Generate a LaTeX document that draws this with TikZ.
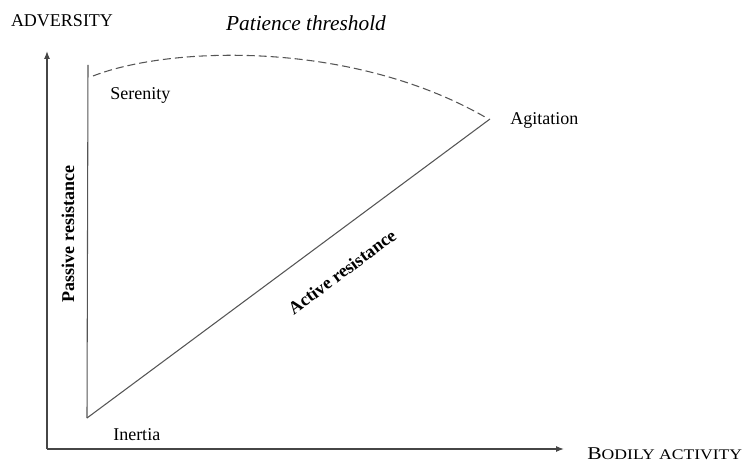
\documentclass[tikz,border=0pt]{standalone}
\usepackage{fontspec}
\setmainfont{Liberation Serif}
\usepackage{tikz}
\usetikzlibrary{arrows.meta,positioning}

\begin{document}
\begin{tikzpicture}[x=0.75pt,y=0.75pt,yscale=-1,xscale=1,
  axis/.style={draw={rgb,255:red,70;green,70;blue,70},line width=0.9pt,-{Latex[length=6pt,width=4.5pt]}},
  curve/.style={draw={rgb,255:red,85;green,85;blue,85},line width=0.8pt},
  label/.style={inner sep=0pt,font=\fontsize{13.5}{15}\selectfont}]
\useasboundingbox (0,0) rectangle (745,466);

% axes
\coordinate (origin) at (47,449);
\coordinate (ytip) at (47,51);
\coordinate (xtip) at (564,449);
\draw [axis] (origin) -- (ytip);
\draw [axis] (origin) -- (xtip);

% points of the triangle
\coordinate (top) at (88,65);
\coordinate (low) at (87,418);
\coordinate (agit) at (490,119);
\coordinate (dstart) at (93,76);
\coordinate (dend) at (485,117);

%Straight Lines
\draw [curve] (top) -- (low);
\draw [curve] (low) -- (agit);
%Dashed curve
\draw [curve,dash pattern=on 6pt off 3pt] (dstart) .. controls (170,46) and (350,40) .. (dend);

% Text Node
\node [label] (adversity) at (62,21) {ADVERSITY};
% Text Node
\node [label,font=\fontsize{16}{18}\selectfont\itshape] (patience) at (306,23) {Patience threshold};
% Text Node
\node [label,anchor=base west] (serenity) at (110,100) {Serenity};
% Text Node
\node [label,anchor=base west] (agitation) at (510,125) {Agitation};
% Text Node
\node [label,anchor=base west] (inertia) at (113,440) {Inertia};
% Text Node
\node [label,anchor=base west,xscale=1.2] (bodily) at (587,459) {B{\fontsize{11}{12}\selectfont ODILY ACTIVITY}};
% Text Node
\node [label,font=\fontsize{13.5}{15}\selectfont\bfseries,rotate=90] (passive) at (68,234) {Passive resistance};
% Text Node
\node [label,font=\fontsize{13.5}{15}\selectfont\bfseries,rotate=36.6] (active) at (342,272) {Active resistance};

\end{tikzpicture}
\end{document}
